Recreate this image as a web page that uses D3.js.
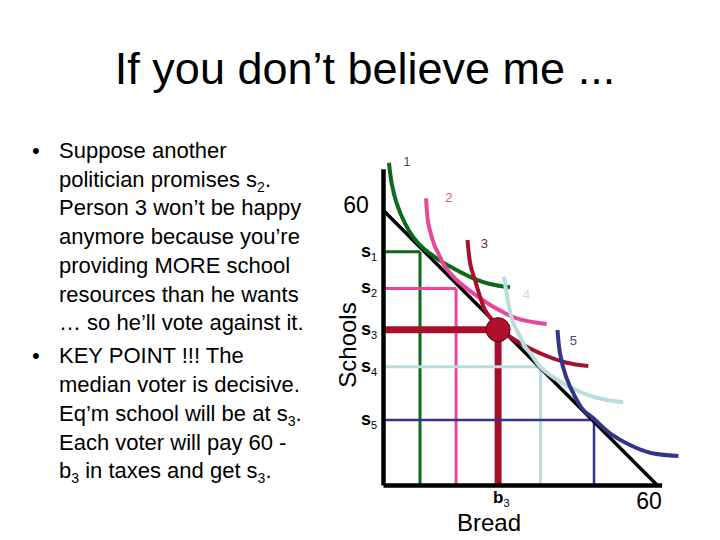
<!DOCTYPE html>
<html><head><meta charset="utf-8">
<script src="https://cdn.jsdelivr.net/npm/d3@7"></script>
<style>body{margin:0;background:#fff}svg{display:block}text{font-family:"Liberation Sans",Arial,sans-serif}</style>
</head><body>
<svg id="c" width="720" height="540"></svg>
<script>
// ---- data ----
const persons = ["1","2","3","4","5"];
const schoolLevels = [50.9, 42.9, 33.9, 25.8, 14.2];   // s1..s5
const breadLevels  = [8.1, 16.0, 25.2, 34.5, 46.2];    // b1..b5
const colors = ["#0b6a1c", "#e9479b", "#a80f2d", "#b9dcdc", "#34358a"];
const labelColors = ["#2a6a2a", "#d4559a", "#8a1a3a", "#c8e0e0", "#45457a"];
const budget = [[0, 60], [60, 0]];
// indifference curves, points (bread, schools)
const curve1 = [[1.31,70.33],[1.90,65.83],[3.00,61.47],[4.82,57.10],[6.63,54.05],[8.82,51.65],[11.76,49.47],[15.39,47.28],[19.77,45.10],[23.43,43.86],[27.81,43.14]];
const curve2 = [[9.42,62.56],[9.92,57.10],[10.66,54.18],[11.39,52.00],[12.11,50.56],[13.58,47.63],[16.14,44.73],[19.77,41.83],[24.15,38.90],[29.28,36.37],[35.84,35.13]];
const curve3 = [[18.50,53.46],[19.16,48.00],[20.14,44.73],[21.24,41.09],[22.33,38.18],[23.43,36.62],[25.25,34.70],[27.81,32.36],[31.46,30.18],[35.84,28.15],[40.22,26.69],[44.95,25.97]];
const curve4 = [[26.49,45.45],[27.44,39.65],[28.18,36.37],[28.90,34.54],[30.00,32.36],[31.09,30.18],[32.56,28.37],[34.38,25.81],[38.76,22.54],[43.86,20.01],[48.24,18.70],[52.62,18.04]];
const curve5 = [[38.21,33.82],[38.76,28.74],[40.07,23.63],[42.04,19.27],[43.86,16.36],[46.05,14.55],[49.70,11.28],[54.08,8.73],[58.46,7.05],[64.66,6.33]];
const curves = [curve1, curve2, curve3, curve4, curve5];
const labelPos = [[5.2, 70.3], [14.4, 62.6], [22.2, 52.4], [31.4, 41.4], [41.7, 31.4]];
const titleText = "If you don\u2019t believe me ...";
const bullets = [
  [["Suppose another"], ["politician promises s", {sub:"2"}, "."], ["Person 3 won\u2019t be happy"],
   ["anymore because you\u2019re"], ["providing MORE school"], ["resources than he wants"],
   ["\u2026 so he\u2019ll vote against it."]],
  [["KEY POINT !!! The"], ["median voter is decisive."], ["Eq\u2019m school will be at s", {sub:"3"}, "."],
   ["Each voter will pay 60 -"], ["b", {sub:"3"}, " in taxes and get s", {sub:"3"}, "."]]
];

const svg = d3.select("#c");
// title
svg.append("text").attr("x", 365).attr("y", 84).attr("text-anchor", "middle")
  .attr("font-size", 45).attr("fill", "#000").text(titleText);

// bullet text
const FS = 22;
let yb = 158;
bullets.forEach((blk, bi) => {
  if (bi === 1) yb += 4.5;
  svg.append("text").attr("x", 32).attr("y", yb).attr("font-size", FS).text("\u2022");
  blk.forEach(line => {
    const t = svg.append("text").attr("x", 59).attr("y", yb).attr("font-size", FS).attr("fill", "#000");
    let shifted = false;
    line.forEach(part => {
      if (typeof part === "string") {
        const ts = t.append("tspan").text(part);
        if (shifted) { ts.attr("dy", -5); shifted = false; }
      } else {
        t.append("tspan").attr("font-size", 14).attr("dy", 5).text(part.sub);
        shifted = true;
      }
    });
    yb += 28.7;
  });
});

// scales
const x = d3.scaleLinear().domain([0, 61]).range([383, 661.6]);
const y = d3.scaleLinear().domain([0, 69]).range([485, 168.8]);

const g = svg.append("g");
// rectangles for each person
const widths = [3, 3, 7, 3, 2.5];
persons.forEach((p, i) => {
  g.append("line").attr("x1", x(0)).attr("x2", x(breadLevels[i])).attr("y1", y(schoolLevels[i])).attr("y2", y(schoolLevels[i]))
    .attr("stroke", colors[i]).attr("stroke-width", widths[i]);
  g.append("line").attr("x1", x(breadLevels[i])).attr("x2", x(breadLevels[i])).attr("y1", y(schoolLevels[i])).attr("y2", y(0))
    .attr("stroke", colors[i]).attr("stroke-width", widths[i]);
});
// budget line
const line = d3.line().x(d => x(d[0])).y(d => y(d[1]));
g.append("path").attr("d", line(budget)).attr("stroke", "#000").attr("stroke-width", 3.5).attr("fill", "none");
// curves
const cline = d3.line().x(d => x(d[0])).y(d => y(d[1])).curve(d3.curveCatmullRom.alpha(0.5));
curves.forEach((c, i) => {
  g.append("path").attr("d", cline(c)).attr("stroke", colors[i]).attr("stroke-width", 4).attr("fill", "none");
});
// curve number labels
persons.forEach((p, i) => {
  svg.append("text").attr("x", x(labelPos[i][0])).attr("y", y(labelPos[i][1])).attr("font-size", 13)
    .attr("dominant-baseline", "middle").attr("fill", labelColors[i]).attr("text-anchor", "middle").text(p);
});
// equilibrium dot
g.append("circle").attr("cx", x(breadLevels[2])).attr("cy", y(schoolLevels[2])).attr("r", 12)
  .attr("fill", "#b0102c").attr("stroke", "#5a0010").attr("stroke-width", 1);

// axes
const ax = g.append("g").attr("transform", `translate(0,${y(0)})`).call(d3.axisBottom(x).tickValues([]).tickSizeOuter(0));
const ay = g.append("g").attr("transform", `translate(${x(0)},0)`).call(d3.axisLeft(y).tickValues([]).tickSizeOuter(0));
[ax, ay].forEach(a => a.select(".domain").attr("stroke", "#000").attr("stroke-width", 4.5));

// s labels
schoolLevels.forEach((s, i) => {
  const t = svg.append("text").attr("x", 361).attr("y", y(s) + 5).attr("font-size", 18).attr("font-weight", "bold");
  t.append("tspan").text("s");
  t.append("tspan").attr("font-size", 11).attr("font-weight", "normal").attr("dy", 4).text(String(i + 1));
});
// 60 labels
svg.append("text").attr("x", 356).attr("y", 213).attr("text-anchor", "middle").attr("font-size", 23).text("60");
svg.append("text").attr("x", 649).attr("y", 509).attr("text-anchor", "middle").attr("font-size", 23).text("60");
// b3 label
const tb = svg.append("text").attr("x", 493).attr("y", 503).attr("font-size", 17).attr("font-weight", "bold");
tb.append("tspan").text("b");
tb.append("tspan").attr("font-size", 11).attr("font-weight", "normal").attr("dy", 4).text("3");
// axis titles
svg.append("text").attr("x", 489).attr("y", 531).attr("text-anchor", "middle").attr("font-size", 24).text("Bread");
svg.append("text").attr("transform", "translate(356,345) rotate(-90)").attr("text-anchor", "middle").attr("font-size", 24).text("Schools");
</script>
</body></html>
